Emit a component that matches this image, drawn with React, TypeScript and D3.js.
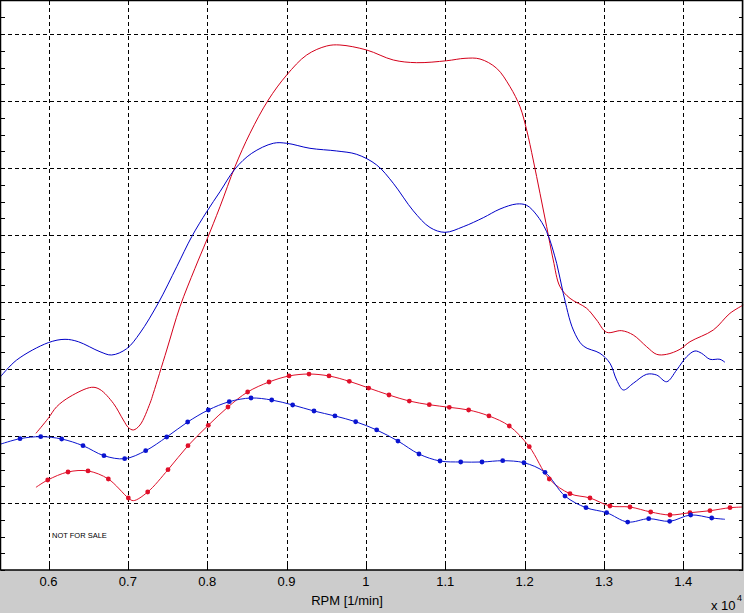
import React from 'react';
import * as d3 from 'd3';

// x in RPM x 10^4, y in grid units (gridline every 10)
const xTicks = [0.6, 0.7, 0.8, 0.9, 1.0, 1.1, 1.2, 1.3, 1.4];
const xTickLabels = ['0.6', '0.7', '0.8', '0.9', '1', '1.1', '1.2', '1.3', '1.4'];
const yGrid = [10, 20, 30, 40, 50, 60, 70, 80];
const yMinor = d3.range(0, 85, 2.5);

// upper red curve (no markers)
const redTopX = [0.5842, 0.5997, 0.6103, 0.6271, 0.6544, 0.6649, 0.6817, 0.6943, 0.7006, 0.7069, 0.7153, 0.7279, 0.7321, 0.749, 0.7657, 0.7846, 0.7994, 0.8161, 0.835, 0.8539, 0.877, 0.9002, 0.9254, 0.9506, 0.9673, 1.001, 1.0345, 1.064, 1.1018, 1.1249, 1.1438, 1.1648, 1.1816, 1.1942, 1.2026, 1.2109, 1.2194, 1.2278, 1.2361, 1.2446, 1.2572, 1.2782, 1.2908, 1.3034, 1.3223, 1.337, 1.3538, 1.3664, 1.379, 1.3958, 1.4084, 1.4378, 1.4588, 1.4756];
const redTopY = [20.4, 22.64, 24.37, 25.87, 27.27, 26.94, 24.88, 22.39, 21.27, 20.9, 21.64, 24.88, 26.37, 32.84, 39.3, 45.03, 49.25, 54.22, 60.19, 65.18, 70.15, 73.88, 76.87, 78.21, 78.36, 77.61, 76.12, 75.72, 76.01, 76.37, 76.27, 74.88, 72.13, 69.15, 65.67, 61.19, 56.22, 51.24, 46.27, 42.28, 40.55, 39.06, 37.31, 35.48, 35.72, 35.07, 33.33, 32.19, 32.19, 32.94, 34.07, 35.82, 38.31, 39.55];

// upper blue curve (no markers)
const blueTopX = [0.5389, 0.5599, 0.5997, 0.6208, 0.6376, 0.6649, 0.6796, 0.6985, 0.7153, 0.7384, 0.7616, 0.7805, 0.7994, 0.8161, 0.835, 0.8561, 0.8833, 0.9002, 0.9295, 0.9632, 0.9884, 1.0136, 1.0345, 1.0597, 1.0808, 1.0997, 1.1227, 1.1479, 1.169, 1.19, 1.2026, 1.2152, 1.2278, 1.2404, 1.2487, 1.2614, 1.274, 1.295, 1.3076, 1.316, 1.3244, 1.337, 1.3538, 1.3664, 1.379, 1.3916, 1.4043, 1.4147, 1.4231, 1.4336, 1.4462, 1.4525];
const blueTopY = [28.76, 31.34, 33.93, 34.43, 34.07, 32.58, 32.09, 33.03, 35.37, 39.85, 45.27, 49.75, 53.48, 56.46, 59.85, 62.19, 63.69, 63.69, 62.94, 62.54, 62.04, 60.45, 57.72, 53.61, 51.12, 50.4, 51.24, 52.58, 53.88, 54.63, 54.43, 52.99, 50.49, 45.78, 41.3, 35.82, 33.43, 32.34, 30.85, 28.36, 26.87, 27.87, 29.21, 29.1, 28.1, 29.85, 31.84, 32.69, 32.34, 31.45, 31.45, 31.0];

// lower red curve with markers (marked = 1)
const redLowX = [0.5842, 0.599, 0.6246, 0.6498, 0.6754, 0.7006, 0.7069, 0.725, 0.7506, 0.7758, 0.8014, 0.8262, 0.851, 0.8779, 0.9031, 0.9283, 0.9535, 0.9791, 1.0035, 1.0291, 1.0547, 1.0799, 1.1051, 1.1295, 1.1551, 1.1807, 1.2059, 1.2311, 1.2572, 1.2824, 1.3076, 1.3328, 1.3589, 1.3832, 1.4084, 1.4336, 1.4588, 1.4752];
const redLowY = [12.34, 13.43, 14.63, 14.78, 13.58, 10.75, 10.35, 11.64, 14.97, 18.55, 21.6, 24.33, 26.57, 28.06, 28.96, 29.25, 28.96, 28.16, 27.16, 26.12, 25.22, 24.67, 24.28, 23.88, 22.99, 21.49, 18.4, 13.58, 11.39, 10.75, 9.55, 9.4, 8.66, 8.21, 8.55, 8.85, 9.3, 9.4];
const redLowMark = [0, 1, 1, 1, 1, 1, 0, 1, 1, 1, 1, 1, 1, 1, 1, 1, 1, 1, 1, 1, 1, 1, 1, 1, 1, 1, 1, 1, 1, 1, 1, 1, 1, 1, 1, 1, 1, 0];

// lower blue curve with markers
const blueLowX = [0.5389, 0.5641, 0.5902, 0.6166, 0.6435, 0.6699, 0.696, 0.7225, 0.749, 0.7754, 0.8014, 0.8278, 0.8552, 0.8813, 0.9077, 0.9346, 0.961, 0.9871, 1.0136, 1.0404, 1.0669, 1.0934, 1.1195, 1.1463, 1.1724, 1.1992, 1.2257, 1.2509, 1.2774, 1.3034, 1.3299, 1.3564, 1.3828, 1.4093, 1.4358, 1.4525];
const blueLowY = [18.76, 19.6, 19.9, 19.55, 18.55, 17.06, 16.61, 17.81, 19.85, 22.09, 23.88, 25.12, 25.67, 25.37, 24.63, 23.73, 22.99, 22.13, 20.9, 19.25, 17.31, 16.27, 16.12, 16.12, 16.31, 16.01, 14.58, 11.04, 9.3, 8.55, 7.16, 7.66, 7.27, 8.21, 7.76, 7.57];
const blueLowMark = [0, 1, 1, 1, 1, 1, 1, 1, 1, 1, 1, 1, 1, 1, 1, 1, 1, 1, 1, 1, 1, 1, 1, 1, 1, 1, 1, 1, 1, 1, 1, 1, 1, 1, 1, 0];

const W = 744;
const H = 613;
const plot = { left: 0.5, top: 0.5, right: 742.5, bottom: 570 };

const RED_THIN = '#d4001a';
const BLUE_THIN = '#0000c8';
const RED = '#e0102a';
const BLUE = '#0a14d0';

const App: React.FC = () => {
  const x = d3.scaleLinear().domain([0.6, 1.4]).range([48.5, 683.3]);
  const y = d3.scaleLinear().domain([0, 80]).range([570, 34]);

  const line = d3.line<[number, number]>()
    .x(d => x(d[0]))
    .y(d => y(d[1]))
    .curve(d3.curveCatmullRom.alpha(0.5));

  const zip = (xs: number[], ys: number[]) => xs.map((v, i) => [v, ys[i]] as [number, number]);

  const redTop = zip(redTopX, redTopY);
  const blueTop = zip(blueTopX, blueTopY);
  const redLow = zip(redLowX, redLowY);
  const blueLow = zip(blueLowX, blueLowY);

  const font = '"Liberation Sans", Arial, sans-serif';

  return (
    <svg width={W} height={H} style={{ position: 'absolute', left: 0, top: 0, display: 'block' }}>
      <rect x={0} y={0} width={W} height={H} fill="#cccccc" />
      <rect x={plot.left} y={plot.top} width={plot.right - plot.left} height={plot.bottom - plot.top} fill="#ffffff" />

      {/* grid */}
      <g stroke="#000" strokeWidth={1} strokeDasharray="4,3" shapeRendering="crispEdges">
        {xTicks.map(t => (
          <line key={'gx' + t} x1={Math.round(x(t)) + 0.5} x2={Math.round(x(t)) + 0.5} y1={plot.top} y2={plot.bottom} />
        ))}
        {yGrid.map(t => (
          <line key={'gy' + t} x1={plot.left} x2={plot.right} y1={Math.round(y(t)) + 0.5} y2={Math.round(y(t)) + 0.5} />
        ))}
      </g>

      {/* minor y ticks on both sides */}
      <g stroke="#000" strokeWidth={1} shapeRendering="crispEdges">
        {yMinor.map(t => (
          <g key={'ty' + t}>
            <line x1={plot.left} x2={plot.left + 4} y1={Math.round(y(t)) + 0.5} y2={Math.round(y(t)) + 0.5} />
            <line x1={plot.right - 4} x2={plot.right} y1={Math.round(y(t)) + 0.5} y2={Math.round(y(t)) + 0.5} />
          </g>
        ))}
        {xTicks.map(t => (
          <line key={'tx' + t} x1={Math.round(x(t)) + 0.5} x2={Math.round(x(t)) + 0.5} y1={plot.bottom - 5} y2={plot.bottom} />
        ))}
      </g>

      {/* curves */}
      <g fill="none" strokeWidth={1}>
        <path d={line(redTop) || ''} stroke={RED_THIN} />
        <path d={line(blueTop) || ''} stroke={BLUE_THIN} />
        <path d={line(redLow) || ''} stroke={RED} />
        <path d={line(blueLow) || ''} stroke={BLUE} />
      </g>
      <g>
        {redLow.map((d, i) => redLowMark[i] ? (
          <circle key={'rm' + i} cx={x(d[0])} cy={y(d[1])} r={2.4} fill={RED} />
        ) : null)}
        {blueLow.map((d, i) => blueLowMark[i] ? (
          <circle key={'bm' + i} cx={x(d[0])} cy={y(d[1])} r={2.4} fill={BLUE} />
        ) : null)}
      </g>

      {/* frame */}
      <rect x={plot.left} y={plot.top} width={plot.right - plot.left} height={plot.bottom - plot.top}
        fill="none" stroke="#000" strokeWidth={1.5} />

      <text x={52} y={538} fontFamily={font} fontSize={7.5} fill="#000">NOT FOR SALE</text>

      {/* x tick labels */}
      <g fontFamily={font} fontSize={13} fill="#000" textAnchor="middle">
        {xTicks.map((t, i) => (
          <text key={'lx' + t} x={x(t)} y={586}>{xTickLabels[i]}</text>
        ))}
      </g>
      <text x={347} y={605} fontFamily={font} fontSize={13} textAnchor="middle" fill="#000">RPM [1/min]</text>
      <text x={711} y={610} fontFamily={font} fontSize={13} fill="#000">x 10</text>
      <text x={737} y={601} fontFamily={font} fontSize={9} fill="#000">4</text>
    </svg>
  );
};

export default App;
